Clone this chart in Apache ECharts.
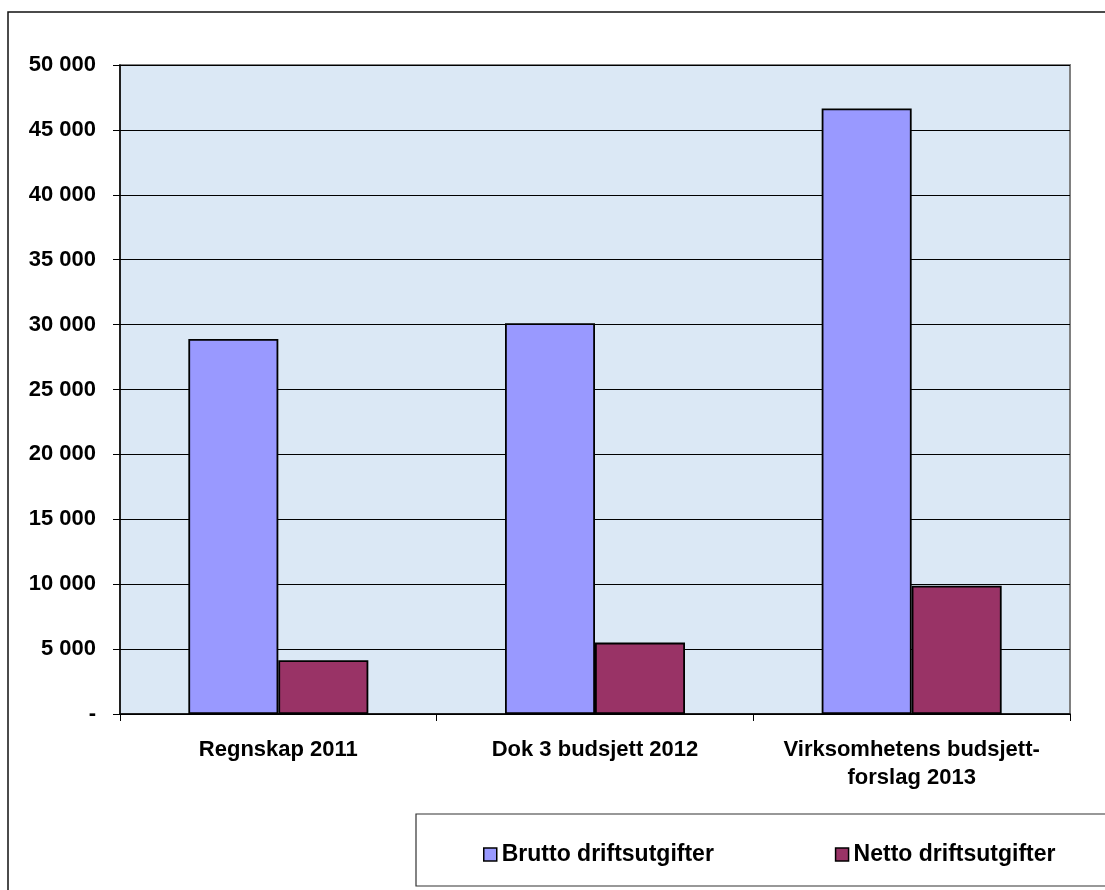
<!DOCTYPE html>
<html>
<head>
<meta charset="utf-8">
<script src="https://cdn.jsdelivr.net/npm/echarts@6/dist/echarts.min.js"></script>
<style>html,body{margin:0;padding:0;background:#fff}#c{width:1105px;height:890px}</style>
</head>
<body>
<div id="c"></div>
<script>
const categories = ['Regnskap 2011', 'Dok 3 budsjett 2012', 'Virksomhetens budsjett-\nforslag 2013'];
const seriesNames = ['Brutto driftsutgifter', 'Netto driftsutgifter'];
const seriesColors = ['#9999ff', '#993366'];
const brutto = [28900, 30100, 46650];
const netto = [4150, 5500, 9880];
const yMin = 0, yMax = 50000, yStep = 5000;

const FONT = '"Liberation Sans", Arial, sans-serif';

const chart = echarts.init(document.getElementById('c'));
chart.setOption({
  animation: false,
  graphic: [
    { type: 'rect', z: -10, shape: { x: 8, y: 12, width: 1300, height: 1000 }, style: { fill: '#fff', stroke: '#111', lineWidth: 1.5 } },
    { type: 'rect', z: -5, shape: { x: 416, y: 814, width: 800, height: 72 }, style: { fill: '#fff', stroke: '#333', lineWidth: 1.2 } }
  ],
  legend: {
    left: 478, top: 838, itemWidth: 13, itemHeight: 13, itemGap: 121, icon: 'rect',
    itemStyle: { borderColor: '#000', borderWidth: 1.5 },
    textStyle: { fontFamily: FONT, fontWeight: 'bold', fontSize: 23, color: '#000' },
    data: seriesNames
  },
  grid: { left: 120, right: 35, top: 65, bottom: 176, show: true, backgroundColor: '#dbe8f5', borderColor: '#808080', borderWidth: 2 },
  xAxis: {
    type: 'category', data: categories,
    axisLine: { lineStyle: { color: '#000', width: 1.5 } },
    axisTick: { show: true, length: 7, lineStyle: { color: '#000' } },
    axisLabel: { interval: 0, margin: 22, fontFamily: FONT, fontWeight: 'bold', fontSize: 22, color: '#000', lineHeight: 28 }
  },
  yAxis: {
    type: 'value', min: yMin, max: yMax, interval: yStep,
    axisLine: { show: true, lineStyle: { color: '#000', width: 1.5 } },
    axisTick: { show: true, length: 7, lineStyle: { color: '#000' } },
    splitLine: { lineStyle: { color: '#000', width: 1 } },
    axisLabel: {
      margin: 24, fontFamily: FONT, fontWeight: 'bold', fontSize: 22, color: '#000',
      formatter: v => v === 0 ? '-' : String(v).replace(/\B(?=(\d{3})+(?!\d))/g, ' ')
    }
  },
  series: [
    { name: seriesNames[0], type: 'bar', data: brutto, barWidth: 90, barGap: '0%',
      itemStyle: { color: seriesColors[0], borderColor: '#000', borderWidth: 1.8 } },
    { name: seriesNames[1], type: 'bar', data: netto, barWidth: 90,
      itemStyle: { color: seriesColors[1], borderColor: '#000', borderWidth: 1.8 } }
  ]
});
</script>
</body>
</html>
